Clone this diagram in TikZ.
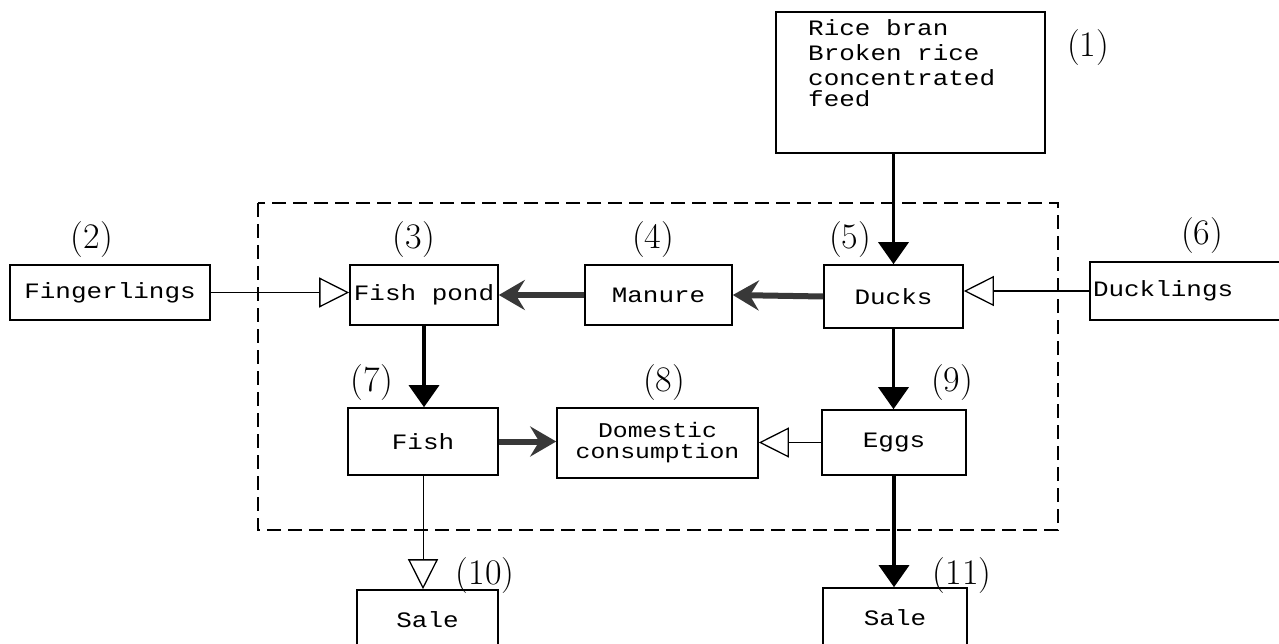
\documentclass[tikz,border=0pt]{standalone}
\usepackage{fontspec}
\newfontfamily\typewriter[FakeStretch=1.18]{Liberation Mono}
\usetikzlibrary{arrows.meta}
\begin{document}
\begin{tikzpicture}[x=1pt,y=-1pt,
  box/.style={draw, line width=1.6pt, inner sep=0pt,
    font=\typewriter\fontsize{22}{22}\selectfont},
  num/.style={font=\fontsize{36}{36}\selectfont},
  thinflow/.style={line width=1.3pt,
    -{Triangle[open,length=30pt,width=30pt,line width=1.3pt]}},
  feedflow/.style={line width=3.5pt, -{Triangle[length=22pt,width=30pt]}},
  massflow/.style={line width=6pt, black!78,
    -{Stealth[length=26pt,width=30pt,inset=9pt]}},
  system/.style={line width=1.6pt, dash pattern=on 14pt off 7pt},
]
\clip (0,0) rectangle (1279,644);
\fill[white] (0,0) rectangle (1279,644);

% boundary of the farm system
\draw[system] (258,203) rectangle (1058,530);

% boxes
\node[box, minimum width=269, minimum height=141] (rice) at (910.5,82.5) {};
\node[anchor=north west, align=left, inner sep=0pt,
      font=\typewriter\fontsize{22}{25}\selectfont] (ricetext) at (808,19)
  {Rice bran\\Broken rice\\concentrated\\[-4pt]feed};
\node[box, minimum width=200, minimum height=55] (fingerlings) at (110,292.5) {Fingerlings};
\node[box, minimum width=148, minimum height=60] (fishpond) at (424,295) {Fish pond};
\node[box, minimum width=147, minimum height=60] (manure) at (658.5,295) {Manure};
\node[box, minimum width=139, minimum height=63] (ducks) at (893.5,296.5) {Ducks};
\node[box, minimum height=58, text width=214, inner xsep=3pt, align=left]
  (ducklings) at (1200,291) {Ducklings};
\node[box, minimum width=150, minimum height=67] (fish) at (423,441.5) {Fish};
\node[box, minimum width=201, minimum height=70,
      font=\typewriter\fontsize{21}{21}\selectfont, align=center]
  (domestic) at (657.5,443) {Domestic\\consumption};
\node[box, minimum width=144, minimum height=65] (eggs) at (894,442.5) {Eggs};
\node[box, minimum width=141, minimum height=90, text depth=30pt] (sale1) at (427.5,635) {Sale};
\node[box, minimum width=144, minimum height=90, text depth=30pt] (sale2) at (895,633) {Sale};

% reference numbers
\node[num] (n1) at (1088,48) {(1)};
\node[num] (n2) at (92,240) {(2)};
\node[num] (n3) at (414,240) {(3)};
\node[num] (n4) at (653,240) {(4)};
\node[num] (n5) at (850,240) {(5)};
\node[num] (n6) at (1202,236) {(6)};
\node[num] (n7) at (372,383) {(7)};
\node[num] (n8) at (664,383) {(8)};
\node[num] (n9) at (952,383) {(9)};
\node[num] (n10) at (485,576) {(10)};
\node[num] (n11) at (962,576) {(11)};

% flows
\draw[feedflow] (rice.south -| ducks.north) -- (ducks.north);
\draw[thinflow] (fingerlings.east) -- (fingerlings.east -| fishpond.west);
\draw[thinflow] (ducklings.west) -- (ducklings.west -| ducks.east);
\draw[massflow] (ducks.west) -- (manure.east);
\draw[massflow] (manure.west) -- (fishpond.east);
\draw[feedflow] (fishpond.south) -- (fishpond.south |- fish.north);
\draw[feedflow] (ducks.south) -- (ducks.south |- eggs.north);
\draw[massflow] (fish.east) -- (fish.east -| domestic.west);
\draw[thinflow] (eggs.west) -- (eggs.west -| domestic.east);
\draw[thinflow, line width=0.9pt] (fish.south) -- (fish.south |- sale1.north);
\draw[feedflow] (eggs.south) -- (eggs.south |- sale2.north);
\end{tikzpicture}
\end{document}
